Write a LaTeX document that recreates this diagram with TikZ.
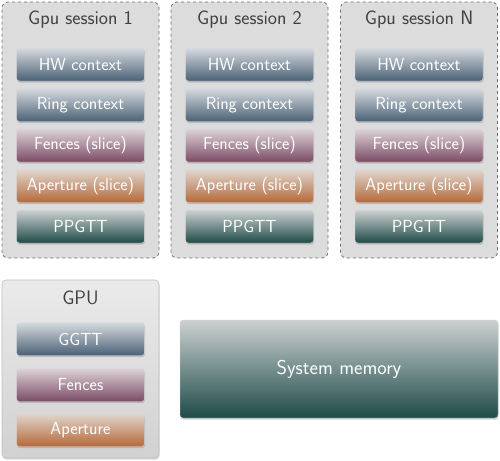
\documentclass[tikz,border=0pt]{standalone}
\usetikzlibrary{shadows}
\definecolor{blueTop}{HTML}{D5DADF}
\definecolor{blueBot}{HTML}{4B6176}
\definecolor{fenTop}{HTML}{DCD2D7}
\definecolor{fenBot}{HTML}{7B4B64}
\definecolor{apTop}{HTML}{E0D6CE}
\definecolor{apBot}{HTML}{B5693A}
\definecolor{ppTop}{HTML}{CCD1D1}
\definecolor{ppBot}{HTML}{1E4B48}
\definecolor{sessFill}{HTML}{DCDCDC}
\definecolor{sessLine}{HTML}{6E6E6E}
\begin{document}
\begin{tikzpicture}[x=1pt,y=-1pt,
  layer/.style={rounded corners=3pt, minimum width=128pt, minimum height=33pt,
     inner sep=0pt, text=white, draw=white!70!gray, line width=0.3pt,
     font=\sffamily\fontsize{17.5}{20}\selectfont,
     drop shadow={opacity=0.35, shadow xshift=0.6pt, shadow yshift=-1.6pt}},
  bluel/.style={layer, top color=blueTop, bottom color=blueBot},
  fenl/.style={layer, top color=fenTop, bottom color=fenBot},
  apl/.style={layer, top color=apTop, bottom color=apBot},
  ppl/.style={layer, top color=ppTop, bottom color=ppBot},
  session/.style={draw=sessLine, dashed, line width=0.8pt, fill=sessFill,
     rounded corners=6pt, minimum width=157pt, minimum height=256pt, inner sep=0pt},
  title/.style={text=black!75, font=\sffamily\fontsize{19.5}{22}\selectfont},
]
\useasboundingbox (0,0) rectangle (500,460);

\foreach \cx/\lab/\id in {80.5/1/a, 249.5/2/b, 419/N/c}{
  \node[session] (sess\id) at (\cx,130) {};
  \node[title] (title\id) at (\cx,20) {Gpu session \lab};
  \node[bluel] (hw\id) at (\cx,64.5) {HW context};
  \node[bluel] (ring\id) at (\cx,105) {Ring context};
  \node[fenl] (fen\id) at (\cx,145.5) {Fences (slice)};
  \node[apl] (ap\id) at (\cx,186) {Aperture (slice)};
  \node[ppl] (pp\id) at (\cx,226.5) {PPGTT};
}

\node[rounded corners=4pt, minimum width=157pt, minimum height=178pt, inner sep=0pt,
  draw=black!25, line width=0.6pt, top color=black!8, bottom color=black!18,
  drop shadow={opacity=0.3, shadow xshift=0.6pt, shadow yshift=-1.6pt}] (gpu) at (80.5,369) {};
\node[title] (gputitle) at (80.5,298) {GPU};
\node[bluel] (ggtt) at (80.5,339) {GGTT};
\node[fenl] (fences) at (80.5,385) {Fences};
\node[apl] (aperture) at (80.5,430) {Aperture};

\node[layer, minimum width=318pt, minimum height=98pt, top color=ppTop, bottom color=ppBot,
  font=\sffamily\fontsize{20}{23}\selectfont]
  (sysmem) at (339,369) {System memory};
\end{tikzpicture}
\end{document}
